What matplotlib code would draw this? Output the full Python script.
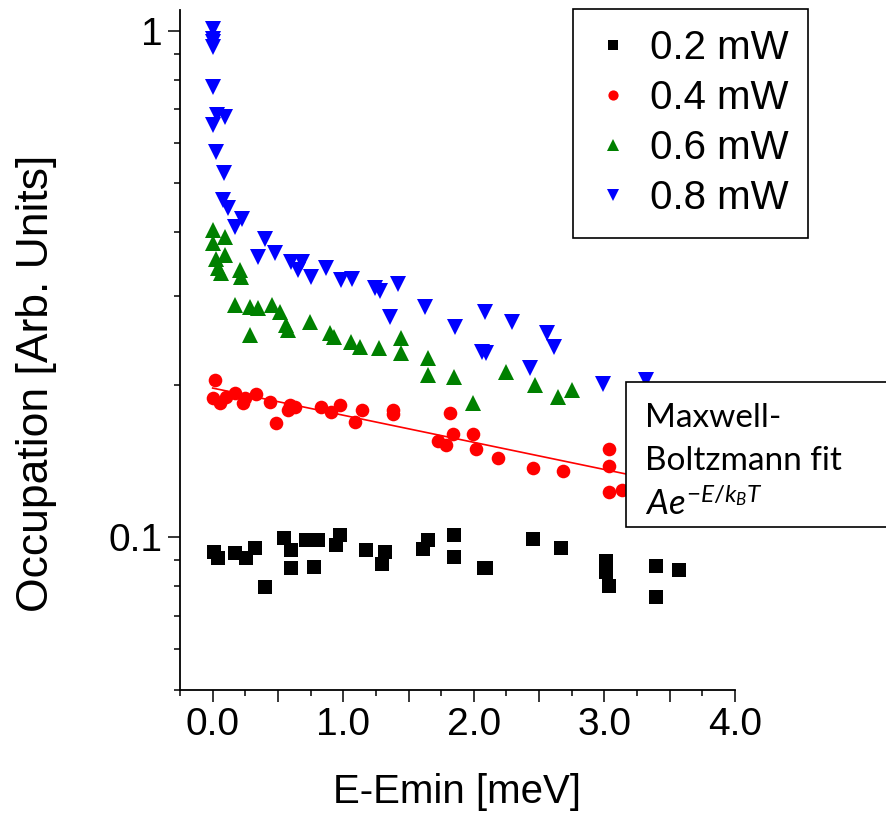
import numpy as np
import matplotlib
matplotlib.use("Agg")
import matplotlib.pyplot as plt
from matplotlib.patches import Rectangle

plt.rcParams['font.family'] = ['Liberation Sans', 'DejaVu Sans']
plt.rcParams['mathtext.fontset'] = 'custom'
plt.rcParams['mathtext.rm'] = 'Lato'
plt.rcParams['mathtext.it'] = 'Lato:italic'

# 0.2 mW
x_02 = [0.008, 0.038, 0.169, 0.258, 0.322, 0.398, 0.544, 0.598, 0.598, 0.718,
        0.807, 0.776, 0.973, 0.948, 1.178, 1.318, 1.300, 1.650, 1.611, 1.849,
        1.849, 2.097, 2.077, 2.454, 2.664, 3.011, 3.011, 3.037, 3.395, 3.395, 3.571]
y_02 = [0.0934, 0.0909, 0.0929, 0.0908, 0.0950, 0.0798, 0.0994, 0.0942, 0.0867, 0.0986,
        0.0986, 0.0871, 0.1009, 0.0964, 0.0942, 0.0935, 0.0883, 0.0986, 0.0947, 0.1009,
        0.0912, 0.0870, 0.0868, 0.0991, 0.0953, 0.0897, 0.0854, 0.0800, 0.0878, 0.0762, 0.0863]

# 0.4 mW
x_04 = [0.020, 0.000, 0.054, 0.105, 0.169, 0.245, 0.233, 0.335, 0.437, 0.590,
        0.628, 0.577, 0.488, 0.833, 0.908, 0.973, 1.088, 1.147, 1.380, 1.380,
        1.816, 1.726, 1.790, 1.840, 1.990, 2.015, 2.186, 2.454, 2.684, 3.037,
        3.037, 3.037, 3.132]
y_04 = [0.204, 0.188, 0.184, 0.189, 0.193, 0.188, 0.184, 0.192, 0.185, 0.182,
        0.181, 0.178, 0.168, 0.181, 0.177, 0.182, 0.169, 0.178, 0.178, 0.175,
        0.176, 0.155, 0.152, 0.160, 0.160, 0.149, 0.143, 0.137, 0.135, 0.149,
        0.138, 0.123, 0.124]

# 0.6 mW
x_06 = [0.000, 0.092, 0.000, 0.092, 0.028, 0.041, 0.067, 0.207, 0.220, 0.169,
        0.284, 0.347, 0.457, 0.513, 0.284, 0.565, 0.578, 0.749, 0.897, 0.927,
        1.063, 1.126, 1.272, 1.440, 1.440, 1.650, 1.650, 1.847, 1.995, 2.250,
        2.467, 2.646, 2.749]
y_06 = [0.404, 0.392, 0.381, 0.361, 0.355, 0.340, 0.332, 0.337, 0.326, 0.287,
        0.285, 0.283, 0.287, 0.279, 0.251, 0.262, 0.257, 0.266, 0.253, 0.249,
        0.243, 0.238, 0.236, 0.247, 0.231, 0.2255, 0.209, 0.207, 0.184, 0.212,
        0.200, 0.189, 0.195]

# 0.8 mW
x_08 = [0.000, 0.000, 0.000, 0.000, 0.000, 0.033, 0.092, 0.000, 0.028, 0.084,
        0.079, 0.117, 0.227, 0.169, 0.400, 0.347, 0.478, 0.603, 0.687, 0.654,
        0.756, 0.871, 0.986, 1.070, 1.240, 1.280, 1.420, 1.625, 1.356, 1.854,
        2.084, 2.289, 2.059, 2.097, 2.557, 2.613, 2.429, 2.990, 3.322]
y_08 = [1.01, 0.964, 0.951, 0.930, 0.774, 0.682, 0.675, 0.652, 0.577, 0.523,
        0.463, 0.446, 0.426, 0.410, 0.389, 0.358, 0.364, 0.350, 0.350, 0.337,
        0.327, 0.340, 0.322, 0.324, 0.310, 0.307, 0.317, 0.285, 0.272, 0.260,
        0.279, 0.266, 0.232, 0.231, 0.253, 0.238, 0.2155, 0.201, 0.204]

# Maxwell-Boltzmann fit to the 0.4 mW data: A*exp(-E/kT)
fit_A = 0.197
fit_kT = 8.1  # meV
fit_range = [0.0, 3.5]

fig = plt.figure(figsize=(8.87, 8.19), dpi=100)
ax = fig.add_axes([180 / 887, 1 - 689.5 / 819, 555 / 887, 679.5 / 819])

ax.plot(x_02, y_02, ls='none', marker='s', ms=9.6, mew=0, color='black', label='0.2 mW')
ax.plot(x_04, y_04, ls='none', marker='o', ms=9.8, mew=0, color='red', label='0.4 mW')
ax.plot(x_06, y_06, ls='none', marker='^', ms=11.5, mew=0, color='green', label='0.6 mW')
ax.plot(x_08, y_08, ls='none', marker='v', ms=11.5, mew=0, color='blue', label='0.8 mW')

E = np.linspace(fit_range[0], fit_range[1], 100)
ax.plot(E, fit_A * np.exp(-E / fit_kT), color='red', lw=1.2, zorder=1)

ax.set_yscale('log')
ax.set_xlim(-0.25, 4.0)
ax.set_ylim(0.05, 1.1)

ax.set_yticks([0.1, 1])
ax.set_yticklabels(['0.1', '1'])
ax.set_yticks([0.05, 0.06, 0.07, 0.08, 0.09, 0.2, 0.3, 0.4, 0.5, 0.6, 0.7, 0.8, 0.9], minor=True)
ax.yaxis.set_minor_formatter(plt.NullFormatter())

xmaj = np.arange(0, 4.01, 0.5)
ax.set_xticks(xmaj)
ax.set_xticklabels(['%.1f' % v if v == int(v) else '' for v in xmaj])
ax.set_xticks(np.arange(-0.25, 4.0, 0.5), minor=True)

ax.tick_params(which='major', direction='out', length=8.5, width=1.1, labelsize=28, pad=4)
ax.tick_params(which='minor', direction='out', length=4.5, width=1.1)
for s in ['top', 'right']:
    ax.spines[s].set_visible(False)
for s in ['left', 'bottom']:
    ax.spines[s].set_linewidth(1.3)

ax.set_xlabel('E-Emin [meV]', fontsize=29, labelpad=22)
ax.set_ylabel('Occupation [Arb. Units]', fontsize=32)
ax.yaxis.set_label_coords(-0.222, 0.45)

leg = ax.legend(loc='upper left', bbox_to_anchor=(573 / 887, 1 - 9 / 819),
                bbox_transform=fig.transFigure, borderaxespad=0, fontsize=29,
                fancybox=False, edgecolor='black', framealpha=1, markerscale=0.75,
                handlelength=1.0, handletextpad=0.4, labelspacing=0.3, borderpad=0.5)
leg.get_frame().set_linewidth(1.2)

# fit annotation box
fig.patches.append(Rectangle((626 / 887, 1 - 527 / 819), 300 / 887, 145 / 819,
                             transform=fig.transFigure, facecolor='white',
                             edgecolor='black', lw=1.2, zorder=5))
fig.text(645 / 887, 1 - 427 / 819, 'Maxwell-', family='Lato', fontsize=24, zorder=6)
fig.text(645 / 887, 1 - 470 / 819, 'Boltzmann fit', family='Lato', fontsize=24, zorder=6)
fig.text(645 / 887, 1 - 515 / 819, r'$Ae^{-E/k_BT}$', fontsize=25, zorder=6)

fig.savefig('out.png', dpi=100)
